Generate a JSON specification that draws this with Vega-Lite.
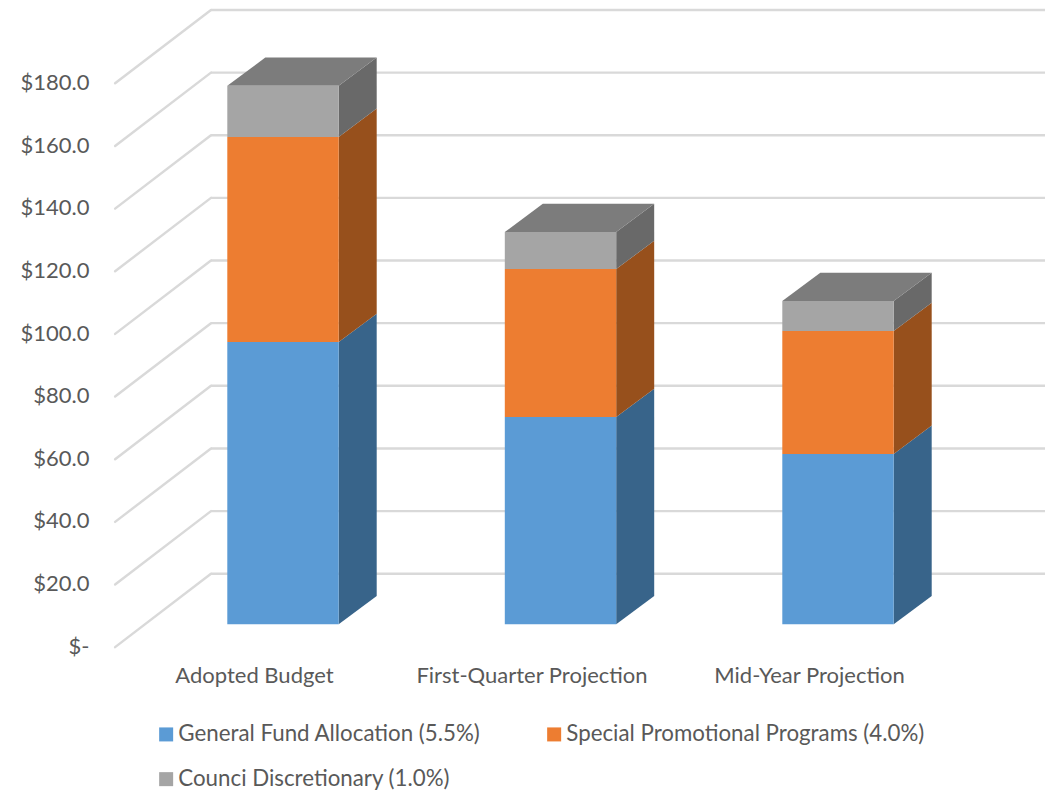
{"$schema":"https://vega.github.io/schema/vega-lite/v6.json","width":1056,"height":790,"autosize":{"type":"none"},"padding":0,"background":"white","config":{"view":{"stroke":null},"font":"Lato","axis":{"grid":false,"domain":false,"ticks":false,"labelFont":"Lato","labelFontSize":22,"labelColor":"#595959","title":null,"labelLimit":500}},"datasets":{"segments":[{"project":"Adopted Budget","idx":0,"series":"General Fund Allocation (5.5%)","rank":1,"value":90.1},{"project":"Adopted Budget","idx":0,"series":"Special Promotional Programs (4.0%)","rank":2,"value":65.5},{"project":"Adopted Budget","idx":0,"series":"Counci Discretionary (1.0%)","rank":3,"value":16.3},{"project":"First-Quarter Projection","idx":1,"series":"General Fund Allocation (5.5%)","rank":1,"value":66.2},{"project":"First-Quarter Projection","idx":1,"series":"Special Promotional Programs (4.0%)","rank":2,"value":47.2},{"project":"First-Quarter Projection","idx":1,"series":"Counci Discretionary (1.0%)","rank":3,"value":11.8},{"project":"Mid-Year Projection","idx":2,"series":"General Fund Allocation (5.5%)","rank":1,"value":54.4},{"project":"Mid-Year Projection","idx":2,"series":"Special Promotional Programs (4.0%)","rank":2,"value":39.2},{"project":"Mid-Year Projection","idx":2,"series":"Counci Discretionary (1.0%)","rank":3,"value":9.6}],"grid":[{"value":0},{"value":20},{"value":40},{"value":60},{"value":80},{"value":100},{"value":120},{"value":140},{"value":160},{"value":180}]},"resolve":{"scale":{"fill":"independent"}},"layer":[{"data":{"name":"grid"},"transform":[{"calculate":"datum.value-7.3","as":"yFront"},{"calculate":"datum.value+16.13","as":"yBack"},{"calculate":"-0.605","as":"xFront"},{"calculate":"-0.2595","as":"xBack"}],"mark":{"type":"rule","color":"#D9D9D9","strokeWidth":2.4,"strokeCap":"round"},"encoding":{"x":{"field":"xFront","type":"quantitative","scale":{"domain":[-1.0198,2.7856],"nice":false,"zero":false},"axis":{"values":[0,1,2],"labelExpr":"datum.value==0?'Adopted Budget':datum.value==1?'First-Quarter Projection':'Mid-Year Projection'","orient":"bottom","labelPadding":-115,"labelBaseline":"middle","labelOffset":-29,"labelBound":false,"labelFlush":false,"labelOverlap":false}},"x2":{"field":"xBack"},"y":{"field":"yFront","type":"quantitative","scale":{"domain":[-52.9,199.3],"nice":false,"zero":false},"axis":{"values":[0,20,40,60,80,100,120,140,160,180],"labelExpr":"datum.value==0?'$-\u00a0\u00a0\u00a0':'$'+format(datum.value,'.1f')","orient":"left","labelPadding":-89,"labelAlign":"right","labelBaseline":"middle","labelOffset":22,"labelBound":false,"labelFlush":false,"labelOverlap":false}},"y2":{"field":"yBack"}}},{"data":{"name":"grid"},"transform":[{"calculate":"datum.value+16.13","as":"yBack"},{"calculate":"-0.2595","as":"xBack"},{"calculate":"2.746","as":"xRight"}],"mark":{"type":"rule","color":"#D9D9D9","strokeWidth":2.4},"encoding":{"x":{"field":"xBack","type":"quantitative"},"x2":{"field":"xRight"},"y":{"field":"yBack","type":"quantitative"}}},{"data":{"name":"segments"},"transform":[{"stack":"value","groupby":["project"],"sort":[{"field":"rank","order":"ascending"}],"as":["start","end"]},{"fold":["near","far"],"as":["edge","edgeValue"]},{"calculate":"datum.edge=='far'?9.03:0","as":"lift"},{"calculate":"datum.idx+0.2007+(datum.edge=='far'?0.137:0)","as":"xs"},{"calculate":"datum.start+datum.lift","as":"ys"},{"calculate":"datum.end+datum.lift","as":"ye"}],"mark":{"type":"area","orient":"vertical","interpolate":"linear","line":false},"encoding":{"x":{"field":"xs","type":"quantitative"},"y":{"field":"ys","type":"quantitative","stack":null},"y2":{"field":"ye"},"detail":{"field":"project"},"fill":{"field":"series","type":"nominal","legend":null,"scale":{"domain":["General Fund Allocation (5.5%)","Special Promotional Programs (4.0%)","Counci Discretionary (1.0%)"],"range":["#38648A","#97501C","#696969"]}}}},{"data":{"name":"segments"},"transform":[{"stack":"value","groupby":["project"],"sort":[{"field":"rank","order":"ascending"}],"as":["start","end"]},{"filter":"datum.rank==3"},{"fold":["near","far"],"as":["edge","edgeValue"]},{"calculate":"datum.edge=='far'?9.03:0","as":"lift"},{"calculate":"datum.idx-0.2007+(datum.edge=='far'?0.137:0)","as":"xl"},{"calculate":"datum.idx+0.2007+(datum.edge=='far'?0.137:0)","as":"xr"},{"calculate":"datum.end+datum.lift","as":"yt"}],"mark":{"type":"area","orient":"horizontal","color":"#7C7C7C"},"encoding":{"y":{"field":"yt","type":"quantitative"},"x":{"field":"xl","type":"quantitative","stack":null},"x2":{"field":"xr"},"detail":{"field":"project"}}},{"data":{"name":"segments"},"transform":[{"stack":"value","groupby":["project"],"sort":[{"field":"rank","order":"ascending"}],"as":["start","end"]},{"calculate":"datum.idx-0.2007","as":"xl"},{"calculate":"datum.idx+0.2007","as":"xr"}],"mark":{"type":"rect"},"encoding":{"x":{"field":"xl","type":"quantitative"},"x2":{"field":"xr"},"y":{"field":"start","type":"quantitative"},"y2":{"field":"end"},"fill":{"field":"series","type":"nominal","scale":{"domain":["General Fund Allocation (5.5%)","Special Promotional Programs (4.0%)","Counci Discretionary (1.0%)"],"range":["#5B9BD5","#ED7D31","#A5A5A5"]},"legend":{"title":null,"orient":"none","legendX":155,"legendY":723,"direction":"horizontal","columns":2,"symbolType":"square","symbolSize":196,"symbolStrokeWidth":0,"labelFont":"Lato","labelFontSize":22.3,"labelColor":"#595959","labelLimit":500,"labelOffset":1,"rowPadding":22,"columnPadding":62,"gridAlign":"each"}}}}]}
